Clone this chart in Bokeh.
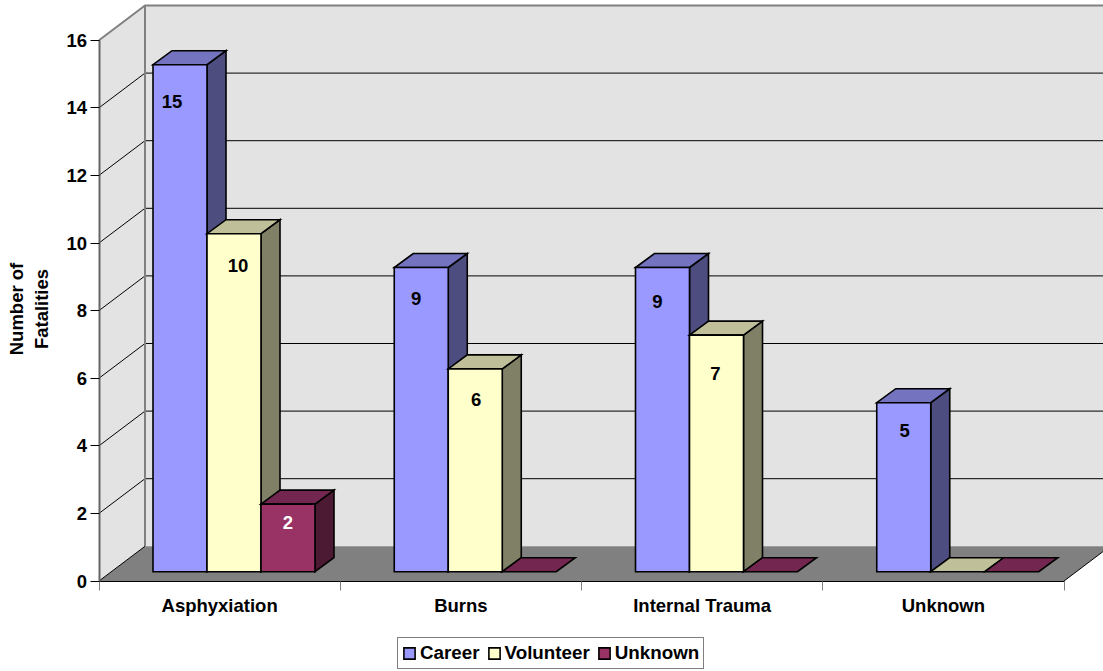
from bokeh.plotting import figure
from bokeh.models import (ColumnDataSource, FixedTicker, Label, Legend, LegendItem, Range1d)
from bokeh.core.properties import value
from bokeh.embed import file_html
from bokeh.resources import INLINE

# ---- data ----
categories = ["Asphyxiation", "Burns", "Internal Trauma", "Unknown"]
career = [15, 9, 9, 5]
volunteer = [10, 6, 7, 0]
unknown = [2, 0, 0, 0]
series_names = ["Career", "Volunteer", "Unknown"]
y_ticks = [0, 2, 4, 6, 8, 10, 12, 14, 16]

# ---- styles (front, side, top) ----
FACE = ["#9999FF", "#FFFFCC", "#993366"]
SIDE = ["#4D4D80", "#808066", "#4D1A33"]
TOP = ["#7373BF", "#BFBF99", "#732650"]
LABEL_COL = ["black", "black", "white"]
WALL = "#E3E3E3"
FLOOR = "#808080"
FONT = "Liberation Sans"
FS = "18.5px"

W, H = 1103, 671
LEFT, BOTTOM = 98.5, 90.5
UX = 241.25  # px per category
UY = 33.8    # px per value unit
BACK_DX, BACK_DY = 46 / UX, 34.7 / UY
BAR_DX, BAR_DY = 19 / UX, 14 / UY
BASE_DY = 9.3 / UY
BAR_W = 54 / UX
BAR_X0 = 54 / UX
Y_MAX = y_ticks[-1]
N = len(categories)

p = figure(width=W, height=H, output_backend="svg", toolbar_location=None,
           x_range=Range1d(-LEFT / UX, (W - LEFT) / UX), y_range=Range1d(-BOTTOM / UY, (H - BOTTOM) / UY),
           min_border_left=0, min_border_right=0, min_border_top=0, min_border_bottom=0,
           outline_line_color=None, background_fill_color="white", border_fill_color="white",
           x_axis_type="linear", y_axis_type="linear")
p.margin = 0
p.grid.visible = False

# ---- walls and floor ----
p.patch([0, BACK_DX, BACK_DX, 0], [0, BACK_DY, BACK_DY + Y_MAX, Y_MAX], fill_color=WALL, line_color=None)
p.patch([BACK_DX, N + BACK_DX, N + BACK_DX, BACK_DX],
        [BACK_DY, BACK_DY, BACK_DY + Y_MAX, BACK_DY + Y_MAX], fill_color=WALL, line_color=None)
p.patch([0, N, N + BACK_DX, BACK_DX], [0, 0, BACK_DY, BACK_DY], fill_color=FLOOR, line_color=None)

# ---- gridlines ----
inner = y_ticks[1:-1]
p.segment([0] * len(inner), inner, [BACK_DX] * len(inner), [v + BACK_DY for v in inner],
          line_color="black", line_width=1)
p.segment([BACK_DX] * len(inner), [v + BACK_DY for v in inner], [N + BACK_DX] * len(inner),
          [v + BACK_DY for v in inner], line_color="black", line_width=1)
# outline of the walls
p.line([0, BACK_DX, N + BACK_DX], [Y_MAX, Y_MAX + BACK_DY, Y_MAX + BACK_DY], line_color=FLOOR, line_width=2)
p.line([BACK_DX, BACK_DX], [BACK_DY, Y_MAX + BACK_DY], line_color=FLOOR, line_width=2)
p.line([N, N + BACK_DX], [0, BACK_DY], line_color="black", line_width=1)
p.line([0, BACK_DX], [0, BACK_DY], line_color="black", line_width=1)

# ---- 3D bars ----
legend_renderers = {}
for c in range(N):
    for s, vals in enumerate([career, volunteer, unknown]):
        v = vals[c]
        x0 = c + BAR_X0 + s * BAR_W
        x1 = x0 + BAR_W
        y0 = BASE_DY
        y1 = BASE_DY + v
        style = dict(line_color="black", line_width=1.6, line_join="miter")
        if v > 0:
            p.patch([x1, x1 + BAR_DX, x1 + BAR_DX, x1], [y0, y0 + BAR_DY, y1 + BAR_DY, y1],
                    fill_color=SIDE[s], **style)
        p.patch([x0, x1, x1 + BAR_DX, x0 + BAR_DX], [y1, y1, y1 + BAR_DY, y1 + BAR_DY],
                fill_color=TOP[s], **style)
        if v > 0:
            r = p.patch([x0, x1, x1, x0], [y0, y0, y1, y1], fill_color=FACE[s], **style)
            legend_renderers.setdefault(s, r)

# ---- data labels: offsets from bar centre (px) and bar top (px) ----
label_dx = [[-8, 4, 0], [-5, 1, 0], [-5, -1, 0], [1, 0, 0]]
label_dy = [[37, 32, 18], [31, 31, 0], [34, 38, 0], [28, 0, 0]]
lx, ly, lt, lc = [], [], [], []
for c in range(N):
    for s, vals in enumerate([career, volunteer, unknown]):
        v = vals[c]
        if v > 0:
            lx.append(c + BAR_X0 + (s + 0.5) * BAR_W + label_dx[c][s] / UX)
            ly.append(BASE_DY + v - label_dy[c][s] / UY)
            lt.append(str(v))
            lc.append(LABEL_COL[s])
p.text(x="x", y="y", text="t", text_color="c", source=ColumnDataSource(dict(x=lx, y=ly, t=lt, c=lc)),
       text_font=value(FONT), text_font_size=FS, text_font_style="bold",
       text_align="center", text_baseline="middle")

# ---- axes ----
ax = p.yaxis[0]
ax.fixed_location = 0
ax.ticker = FixedTicker(ticks=y_ticks)
ax.bounds = (0, Y_MAX)
ax.axis_line_color = "#666666"
ax.axis_line_width = 2
ax.major_tick_line_color = "black"
ax.major_tick_in = 0
ax.major_tick_out = 9
ax.minor_tick_line_color = None
ax.major_label_standoff = 3
ax.major_label_text_font = FONT
ax.major_label_text_font_size = FS
ax.major_label_text_font_style = "bold"
ax.major_label_text_color = "black"

bx = p.xaxis[0]
bx.fixed_location = 0
bx.ticker = FixedTicker(ticks=[i + 0.5 for i in range(N)], minor_ticks=list(range(N + 1)))
bx.major_label_overrides = {i + 0.5: categories[i] for i in range(N)}
bx.bounds = (0, N)
bx.axis_line_color = "black"
bx.axis_line_width = 1
bx.major_tick_line_color = None
bx.major_tick_in = 0
bx.major_tick_out = 10
bx.minor_tick_in = 0
bx.minor_tick_out = 9
bx.minor_tick_line_color = "#808080"
bx.major_label_standoff = 4
bx.major_label_text_font = FONT
bx.major_label_text_font_size = FS
bx.major_label_text_font_style = "bold"
bx.major_label_text_color = "black"

title = Label(x=-70 / UX, y=(581 - 309) / UY, text="Number of\nFatalities", angle=90, angle_units="deg",
              text_font=FONT, text_font_size=FS, text_font_style="bold", text_color="black",
              text_align="center", text_baseline="middle", text_line_height=1.15)
p.add_layout(title, "center")

# ---- legend ----
legend = Legend(items=[LegendItem(label=series_names[s], renderers=[legend_renderers[s]]) for s in range(3)],
                orientation="horizontal", location=(397, 2), margin=0, padding=4, spacing=7,
                glyph_width=14, glyph_height=14, label_standoff=4,
                label_text_font=FONT, label_text_font_size="18.8px", label_text_font_style="bold",
                label_text_color="black", border_line_color="black", border_line_width=1,
                background_fill_color="white", background_fill_alpha=1)
p.add_layout(legend, "center")

open("out.html", "w").write(file_html(p, INLINE))
